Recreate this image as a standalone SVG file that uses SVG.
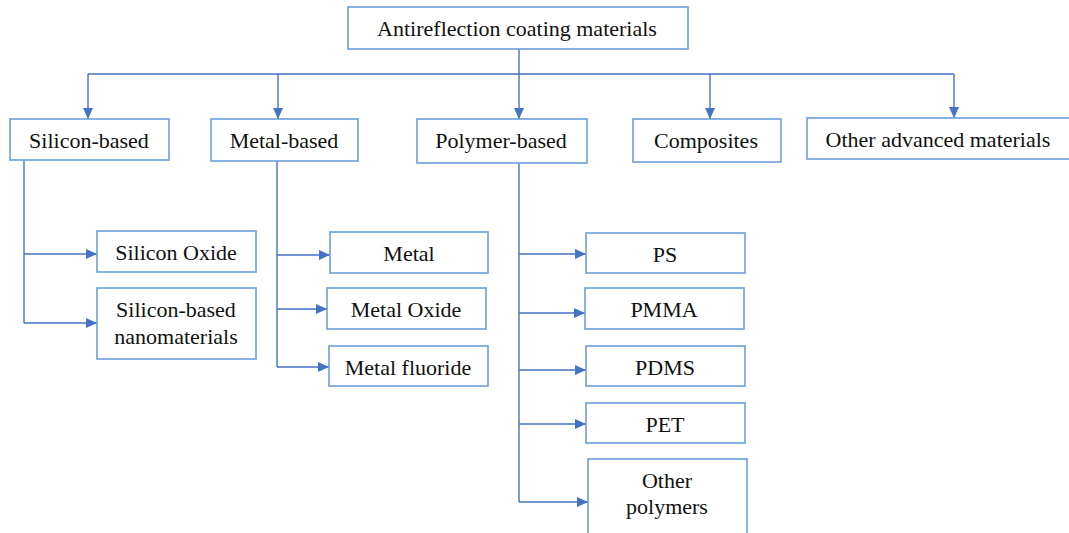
<svg xmlns="http://www.w3.org/2000/svg" width="1069" height="533" viewBox="0 0 1069 533">
<style>
.box{fill:#fff;stroke:#6A9FDB;stroke-width:1.6}
.t{font-family:'Liberation Serif','DejaVu Serif',serif;font-size:22px;fill:#111;text-anchor:middle}
.c{fill:none;stroke:#4472C4;stroke-width:1.4}
</style>
<defs>
<marker id="ah" markerUnits="userSpaceOnUse" markerWidth="12" markerHeight="12" viewBox="0 0 12 12" refX="11" refY="6" orient="auto">
<path d="M0,1 L11,6 L0,11 Z" fill="#4472C4"/>
</marker>
</defs>
<rect width="1069" height="533" fill="#fff"/>
<g id="connectors">
<path class="c" d="M519,49 V74 M88,74 H954"/>
<path class="c" d="M88,74 V119" marker-end="url(#ah)"/>
<path class="c" d="M278,74 V119" marker-end="url(#ah)"/>
<path class="c" d="M519,74 V119" marker-end="url(#ah)"/>
<path class="c" d="M710,74 V119" marker-end="url(#ah)"/>
<path class="c" d="M954,74 V118" marker-end="url(#ah)"/>
<path class="c" d="M24,160 V323"/>
<path class="c" d="M24,254 H97" marker-end="url(#ah)"/>
<path class="c" d="M24,323 H97" marker-end="url(#ah)"/>
<path class="c" d="M277,161 V367"/>
<path class="c" d="M277,255 H330" marker-end="url(#ah)"/>
<path class="c" d="M277,309 H327" marker-end="url(#ah)"/>
<path class="c" d="M277,367 H329" marker-end="url(#ah)"/>
<path class="c" d="M519,163 V502"/>
<path class="c" d="M519,254 H586" marker-end="url(#ah)"/>
<path class="c" d="M519,313 H585" marker-end="url(#ah)"/>
<path class="c" d="M519,370 H586" marker-end="url(#ah)"/>
<path class="c" d="M519,424 H586" marker-end="url(#ah)"/>
<path class="c" d="M519,502 H588" marker-end="url(#ah)"/>
</g>
<g id="root"><rect class="box" x="348" y="7" width="340" height="42"/><text class="t" x="517" y="36" font-family="Liberation Serif">Antireflection coating materials</text></g>
<g id="silicon"><rect class="box" x="10" y="119" width="159" height="41"/><text class="t" x="89" y="148">Silicon-based</text></g>
<g id="metal"><rect class="box" x="211" y="119" width="147" height="42"/><text class="t" x="284" y="148">Metal-based</text></g>
<g id="polymer"><rect class="box" x="417" y="119" width="170" height="44"/><text class="t" x="501" y="148">Polymer-based</text></g>
<g id="composites"><rect class="box" x="633" y="119" width="148" height="43"/><text class="t" x="706" y="148">Composites</text></g>
<g id="other-adv"><rect class="box" x="807" y="118" width="270" height="41"/><text class="t" x="938" y="147">Other advanced materials</text></g>
<g id="si-oxide"><rect class="box" x="97" y="231" width="159" height="41"/><text class="t" x="176" y="260">Silicon Oxide</text></g>
<g id="si-nano"><rect class="box" x="97" y="288" width="159" height="71"/><text class="t" x="176" y="317">Silicon-based</text><text class="t" x="176" y="344">nanomaterials</text></g>
<g id="metal-b"><rect class="box" x="330" y="232" width="158" height="41"/><text class="t" x="409" y="261">Metal</text></g>
<g id="metal-oxide"><rect class="box" x="327" y="288" width="159" height="41"/><text class="t" x="406" y="317">Metal Oxide</text></g>
<g id="metal-fluoride"><rect class="box" x="329" y="346" width="159" height="40"/><text class="t" x="408" y="375">Metal fluoride</text></g>
<g id="ps"><rect class="box" x="586" y="233" width="159" height="40"/><text class="t" x="665" y="262">PS</text></g>
<g id="pmma"><rect class="box" x="585" y="288" width="159" height="41"/><text class="t" x="664" y="317">PMMA</text></g>
<g id="pdms"><rect class="box" x="586" y="346" width="159" height="40"/><text class="t" x="665" y="375">PDMS</text></g>
<g id="pet"><rect class="box" x="586" y="403" width="159" height="40"/><text class="t" x="665" y="432">PET</text></g>
<g id="other-poly"><rect class="box" x="588" y="459" width="159" height="84"/><text class="t" x="667" y="488">Other</text><text class="t" x="667" y="514">polymers</text></g>
</svg>
